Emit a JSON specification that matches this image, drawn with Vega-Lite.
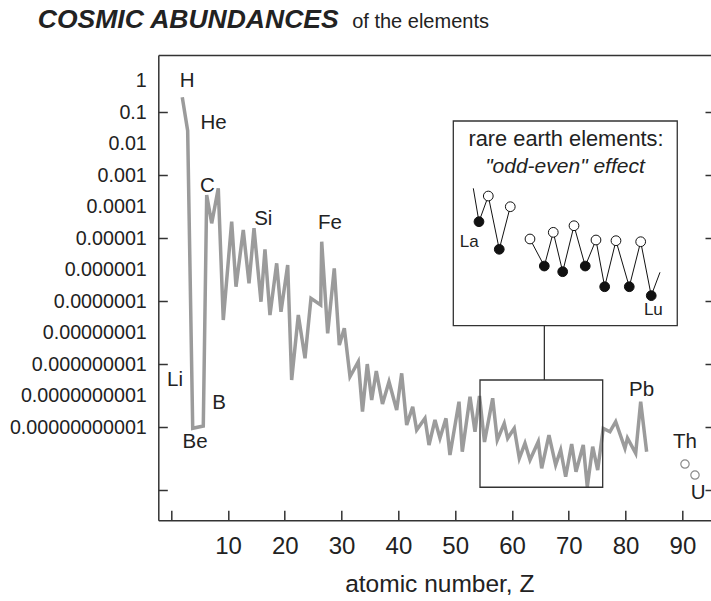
{
  "$schema": "https://vega.github.io/schema/vega-lite/v6.json",
  "width": 552.7,
  "height": 465.3,
  "autosize": {"type": "none"},
  "padding": {"left": 158.3, "top": 55, "right": 0, "bottom": 80.7},
  "config": {
    "view": {"stroke": null},
    "font": "Liberation Sans",
    "axis": {"domainColor": "#333", "domainWidth": 1.5, "tickColor": "#333", "tickWidth": 1.5, "labelColor": "#222", "titleColor": "#222", "labelFont": "Liberation Sans", "titleFont": "Liberation Sans", "grid": false}
  },
  "datasets": {
    "main": [
      {"el": "H", "Z": 1.95, "abundance": 0.298},
      {"el": "He", "Z": 2.90, "abundance": 0.0259},
      {"el": "Be", "Z": 3.79, "abundance": 9.1e-12},
      {"el": "B", "Z": 5.65, "abundance": 1.08e-11},
      {"el": "C", "Z": 6.25, "abundance": 2.34e-4},
      {"el": "N", "Z": 7.13, "abundance": 2.96e-5},
      {"el": "O", "Z": 8.29, "abundance": 3.83e-4},
      {"el": "F", "Z": 9.17, "abundance": 2.51e-8},
      {"el": "Ne", "Z": 10.65, "abundance": 3.33e-5},
      {"el": "Na", "Z": 11.41, "abundance": 2.86e-7},
      {"el": "Mg", "Z": 12.69, "abundance": 1.82e-5},
      {"el": "Al", "Z": 13.70, "abundance": 3.67e-7},
      {"el": "Si", "Z": 14.58, "abundance": 2.06e-5},
      {"el": "P", "Z": 15.81, "abundance": 9.57e-8},
      {"el": "S", "Z": 16.51, "abundance": 4.43e-6},
      {"el": "Cl", "Z": 17.39, "abundance": 3.61e-8},
      {"el": "Ar", "Z": 18.57, "abundance": 1.59e-6},
      {"el": "K", "Z": 19.33, "abundance": 4.60e-8},
      {"el": "Ca", "Z": 20.51, "abundance": 1.40e-6},
      {"el": "Sc", "Z": 21.21, "abundance": 3.12e-10},
      {"el": "Ti", "Z": 22.38, "abundance": 3.61e-8},
      {"el": "V", "Z": 23.56, "abundance": 1.52e-9},
      {"el": "Cr", "Z": 24.61, "abundance": 1.23e-7},
      {"el": "Mn", "Z": 26.32, "abundance": 7.52e-8},
      {"el": "Fe", "Z": 26.50, "abundance": 7.71e-6},
      {"el": "Co", "Z": 27.55, "abundance": 9.48e-9},
      {"el": "Ni", "Z": 28.71, "abundance": 1.10e-6},
      {"el": "Cu", "Z": 29.60, "abundance": 4.03e-9},
      {"el": "Zn", "Z": 30.48, "abundance": 1.37e-8},
      {"el": "Ga", "Z": 31.48, "abundance": 3.96e-10},
      {"el": "Ge", "Z": 32.94, "abundance": 1.19e-9},
      {"el": "As", "Z": 33.68, "abundance": 3.07e-11},
      {"el": "Se", "Z": 34.52, "abundance": 1.00e-9},
      {"el": "Br", "Z": 35.30, "abundance": 7.21e-11},
      {"el": "Kr", "Z": 36.11, "abundance": 6.03e-10},
      {"el": "Rb", "Z": 37.20, "abundance": 5.38e-11},
      {"el": "Sr", "Z": 38.35, "abundance": 2.75e-10},
      {"el": "Y", "Z": 39.70, "abundance": 3.48e-11},
      {"el": "Zr", "Z": 40.58, "abundance": 5.08e-10},
      {"el": "Nb", "Z": 41.46, "abundance": 1.16e-11},
      {"el": "Mo", "Z": 42.52, "abundance": 4.42e-11},
      {"el": "Tc", "Z": 43.22, "abundance": 8.04e-12},
      {"el": "Ru", "Z": 44.68, "abundance": 1.89e-11},
      {"el": "Rh", "Z": 45.39, "abundance": 2.69e-12},
      {"el": "Pd", "Z": 46.44, "abundance": 1.67e-11},
      {"el": "Ag", "Z": 47.32, "abundance": 4.39e-12},
      {"el": "Cd", "Z": 48.38, "abundance": 1.89e-11},
      {"el": "In", "Z": 49.08, "abundance": 1.29e-12},
      {"el": "Sn", "Z": 50.67, "abundance": 6.37e-11},
      {"el": "Sb", "Z": 51.25, "abundance": 1.64e-12},
      {"el": "Te", "Z": 52.61, "abundance": 9.18e-11},
      {"el": "I", "Z": 53.49, "abundance": 7.10e-12},
      {"el": "Xe", "Z": 54.28, "abundance": 9.66e-11},
      {"el": "Cs", "Z": 55.16, "abundance": 3.34e-12},
      {"el": "Ba", "Z": 56.60, "abundance": 8.17e-11},
      {"el": "La", "Z": 57.41, "abundance": 3.87e-12},
      {"el": "Ce", "Z": 58.64, "abundance": 1.31e-11},
      {"el": "Pr", "Z": 59.24, "abundance": 4.39e-12},
      {"el": "Nd", "Z": 60.40, "abundance": 9.10e-12},
      {"el": "Pm", "Z": 61.29, "abundance": 1.01e-12},
      {"el": "Sm", "Z": 62.29, "abundance": 3.04e-12},
      {"el": "Eu", "Z": 63.17, "abundance": 8.95e-13},
      {"el": "Gd", "Z": 64.63, "abundance": 3.42e-12},
      {"el": "Tb", "Z": 65.23, "abundance": 4.89e-13},
      {"el": "Dy", "Z": 66.51, "abundance": 5.57e-12},
      {"el": "Ho", "Z": 67.69, "abundance": 6.21e-13},
      {"el": "Er", "Z": 68.57, "abundance": 1.86e-12},
      {"el": "Tm", "Z": 69.45, "abundance": 2.64e-13},
      {"el": "Yb", "Z": 70.51, "abundance": 2.89e-12},
      {"el": "Lu", "Z": 71.27, "abundance": 3.81e-13},
      {"el": "Hf", "Z": 72.55, "abundance": 2.69e-12},
      {"el": "Ta", "Z": 73.26, "abundance": 1.27e-13},
      {"el": "W", "Z": 74.21, "abundance": 2.37e-12},
      {"el": "Re", "Z": 75.09, "abundance": 4.31e-13},
      {"el": "Os", "Z": 76.07, "abundance": 9.10e-12},
      {"el": "Ir", "Z": 77.25, "abundance": 7.10e-12},
      {"el": "Pt", "Z": 78.26, "abundance": 1.48e-11},
      {"el": "Au", "Z": 79.89, "abundance": 2.11e-12},
      {"el": "Hg", "Z": 80.33, "abundance": 4.48e-12},
      {"el": "Tl", "Z": 81.78, "abundance": 1.46e-12},
      {"el": "Pb", "Z": 82.66, "abundance": 6.37e-11},
      {"el": "Bi", "Z": 83.71, "abundance": 1.64e-12}
    ],
    "heavy": [
      {"el": "Th", "Z": 90.46, "abundance": 6.68e-13},
      {"el": "U", "Z": 92.22, "abundance": 2.99e-13}
    ],
    "labels": [
      {"label": "H", "Z": 2.83, "abundance": 1.0},
      {"label": "He", "Z": 7.48, "abundance": 0.0445},
      {"label": "C", "Z": 6.36, "abundance": 4.63e-4},
      {"label": "Si", "Z": 16.21, "abundance": 3.96e-5},
      {"label": "Fe", "Z": 27.96, "abundance": 2.96e-5},
      {"label": "Li", "Z": 0.67, "abundance": 3.12e-10},
      {"label": "B", "Z": 8.42, "abundance": 5.66e-11},
      {"label": "Be", "Z": 4.19, "abundance": 3.42e-12},
      {"label": "Pb", "Z": 82.83, "abundance": 1.50e-10},
      {"label": "Th", "Z": 90.46, "abundance": 3.42e-12},
      {"label": "U", "Z": 92.80, "abundance": 8.18e-14}
    ],
    "frames": [
      {"part": "zoomed range", "Z": 54.37, "Z2": 75.97, "abundance": 3.12e-10, "abundance2": 1.22e-13}
    ],
    "inset": [
      {"part": "inset", "Z": 49.67, "Z2": 89.1, "abundance": 0.0526, "abundance2": 1.66e-8}
    ],
    "connector": [
      {"Z": 65.7, "abundance": 1.66e-8, "abundance2": 3.12e-10}
    ],
    "ree": [
      {"seg": 1, "type": "end", "Z": 53.19, "abundance": 3.83e-4},
      {"seg": 1, "type": "odd", "Z": 54.19, "abundance": 3.33e-5},
      {"seg": 1, "type": "even", "Z": 55.83, "abundance": 2.18e-4},
      {"seg": 1, "type": "odd", "Z": 57.76, "abundance": 4.43e-6},
      {"seg": 1, "type": "even", "Z": 59.70, "abundance": 9.97e-5},
      {"seg": 2, "type": "even", "Z": 63.17, "abundance": 9.40e-6},
      {"seg": 2, "type": "odd", "Z": 65.69, "abundance": 1.30e-6},
      {"seg": 2, "type": "even", "Z": 67.27, "abundance": 1.53e-5},
      {"seg": 2, "type": "odd", "Z": 68.93, "abundance": 8.59e-7},
      {"seg": 2, "type": "even", "Z": 70.92, "abundance": 2.48e-5},
      {"seg": 2, "type": "odd", "Z": 72.90, "abundance": 1.30e-6},
      {"seg": 2, "type": "even", "Z": 74.79, "abundance": 8.73e-6},
      {"seg": 2, "type": "odd", "Z": 76.32, "abundance": 2.86e-7},
      {"seg": 2, "type": "even", "Z": 78.31, "abundance": 8.30e-6},
      {"seg": 2, "type": "odd", "Z": 80.65, "abundance": 2.86e-7},
      {"seg": 2, "type": "even", "Z": 82.66, "abundance": 7.71e-6},
      {"seg": 2, "type": "odd", "Z": 84.52, "abundance": 1.49e-7},
      {"seg": 2, "type": "end", "Z": 86.06, "abundance": 8.22e-7}
    ],
    "reeLabels": [
      {"label": "La", "Z": 52.48, "abundance": 7.38e-6},
      {"label": "Lu", "Z": 84.89, "abundance": 5.21e-8}
    ],
    "insetTitle": [
      {"text": "rare earth elements:", "style": "normal", "Z": 69.51, "abundance": 8.45e-3},
      {"text": "\"odd-even\" effect", "style": "italic", "Z": 69.33, "abundance": 1.2e-3}
    ]
  },
  "resolve": {"axis": {"x": "independent", "y": "independent"}},
  "layer": [
    {
      "data": {"name": "main"},
      "mark": {"type": "line", "color": "#9b9b9b", "strokeWidth": 3.5, "strokeJoin": "miter", "strokeMiterLimit": 4},
      "encoding": {
        "x": {"field": "Z", "type": "quantitative", "scale": {"domain": [-2.27, 95.04], "nice": false, "zero": false},
          "axis": {"orient": "bottom", "values": [0, 10, 20, 30, 40, 50, 60, 70, 80, 90], "labelExpr": "datum.value == 0 ? '' : datum.label", "tickSize": -10, "labelPadding": 24, "labelFontSize": 24, "title": "atomic number, Z", "titleFontSize": 24.5, "titleFontWeight": "normal", "titleX": 281, "titleY": 71.5, "titleBaseline": "alphabetic", "titleAlign": "center"}},
        "y": {"field": "abundance", "type": "quantitative", "scale": {"type": "log", "domain": [1.089e-14, 6.58], "nice": false},
          "axis": {"orient": "left", "values": [1, 0.1, 0.01, 0.001, 0.0001, 1e-5, 1e-6, 1e-7, 1e-8, 1e-9, 1e-10, 1e-11, 1e-12, 1e-13],
            "labelExpr": "datum.value < 5e-12 ? '' : format(datum.value, '.11~f')",
            "tickSize": -9, "labelPadding": 21, "labelFontSize": 19.7,
            "tickOpacity": {"condition": {"test": "abs(round(log(datum.value) / LN10)) % 2 == 1", "value": 1}, "value": 0},
            "title": "COSMIC ABUNDANCES", "titleAngle": 0, "titleX": -121, "titleY": -28, "titleAlign": "left", "titleBaseline": "alphabetic", "titleFontSize": 26.5, "titleFontStyle": "italic", "titleFontWeight": "bold"}}
      }
    },
    {
      "data": {"name": "frames"},
      "mark": {"type": "rect", "fill": null, "fillOpacity": 0, "stroke": "#333", "strokeWidth": 1.3},
      "encoding": {
        "x": {"field": "Z", "type": "quantitative", "scale": {"domain": [-2.27, 95.04], "nice": false, "zero": false},
          "axis": {"orient": "top", "ticks": false, "labels": false, "domain": true, "title": "of the elements", "titleX": 193.4, "titleY": -28, "titleAlign": "left", "titleBaseline": "alphabetic", "titleAngle": 0, "titleFontSize": 20, "titleFontWeight": "normal"}},
        "x2": {"field": "Z2"},
        "y": {"field": "abundance", "type": "quantitative", "scale": {"type": "log", "domain": [1.089e-14, 6.58], "nice": false},
          "axis": {"orient": "right", "values": [0.1, 0.001, 1e-5, 1e-7, 1e-9, 1e-11, 1e-13], "labels": false, "domain": false, "tickSize": -6, "title": null}},
        "y2": {"field": "abundance2"}
      }
    },
    {
      "data": {"name": "connector"},
      "mark": {"type": "rule", "color": "#333", "strokeWidth": 1.3},
      "encoding": {
        "x": {"field": "Z", "type": "quantitative", "axis": null},
        "y": {"field": "abundance", "type": "quantitative", "axis": null},
        "y2": {"field": "abundance2"}
      }
    },
    {
      "data": {"name": "inset"},
      "mark": {"type": "rect", "fill": "#ffffff", "stroke": "#333", "strokeWidth": 1.3},
      "encoding": {
        "x": {"field": "Z", "type": "quantitative", "axis": null},
        "x2": {"field": "Z2"},
        "y": {"field": "abundance", "type": "quantitative", "axis": null},
        "y2": {"field": "abundance2"}
      }
    },
    {
      "data": {"name": "ree"},
      "mark": {"type": "line", "color": "#111", "strokeWidth": 1},
      "encoding": {
        "x": {"field": "Z", "type": "quantitative", "axis": null},
        "y": {"field": "abundance", "type": "quantitative", "axis": null},
        "detail": {"field": "seg", "type": "nominal"}
      }
    },
    {
      "data": {"name": "ree"},
      "transform": [{"filter": "datum.type != 'end'"}],
      "mark": {"type": "point", "shape": "circle", "filled": true, "size": 95, "stroke": "#111", "strokeWidth": 1, "opacity": 1},
      "encoding": {
        "x": {"field": "Z", "type": "quantitative", "axis": null},
        "y": {"field": "abundance", "type": "quantitative", "axis": null},
        "fill": {"field": "type", "type": "nominal", "scale": {"domain": ["odd", "even"], "range": ["#111111", "#ffffff"]}, "legend": null}
      }
    },
    {
      "data": {"name": "heavy"},
      "mark": {"type": "point", "shape": "circle", "filled": true, "fill": "#ffffff", "stroke": "#8a8a8a", "strokeWidth": 1.2, "size": 70, "opacity": 1},
      "encoding": {
        "x": {"field": "Z", "type": "quantitative", "axis": null},
        "y": {"field": "abundance", "type": "quantitative", "axis": null}
      }
    },
    {
      "data": {"name": "labels"},
      "mark": {"type": "text", "fontSize": 20.5, "color": "#222", "align": "center", "baseline": "middle"},
      "encoding": {
        "x": {"field": "Z", "type": "quantitative", "axis": null},
        "y": {"field": "abundance", "type": "quantitative", "axis": null},
        "text": {"field": "label"}
      }
    },
    {
      "data": {"name": "reeLabels"},
      "mark": {"type": "text", "fontSize": 17, "color": "#222", "align": "center", "baseline": "middle"},
      "encoding": {
        "x": {"field": "Z", "type": "quantitative", "axis": null},
        "y": {"field": "abundance", "type": "quantitative", "axis": null},
        "text": {"field": "label"}
      }
    },
    {
      "data": {"name": "insetTitle"},
      "transform": [{"filter": "datum.style == 'normal'"}],
      "mark": {"type": "text", "fontSize": 21.8, "color": "#222", "align": "center", "baseline": "alphabetic"},
      "encoding": {
        "x": {"field": "Z", "type": "quantitative", "axis": null},
        "y": {"field": "abundance", "type": "quantitative", "axis": null},
        "text": {"field": "text"}
      }
    },
    {
      "data": {"name": "insetTitle"},
      "transform": [{"filter": "datum.style == 'italic'"}],
      "mark": {"type": "text", "fontSize": 21, "fontStyle": "italic", "color": "#222", "align": "center", "baseline": "alphabetic"},
      "encoding": {
        "x": {"field": "Z", "type": "quantitative", "axis": null},
        "y": {"field": "abundance", "type": "quantitative", "axis": null},
        "text": {"field": "text"}
      }
    }
  ]
}
